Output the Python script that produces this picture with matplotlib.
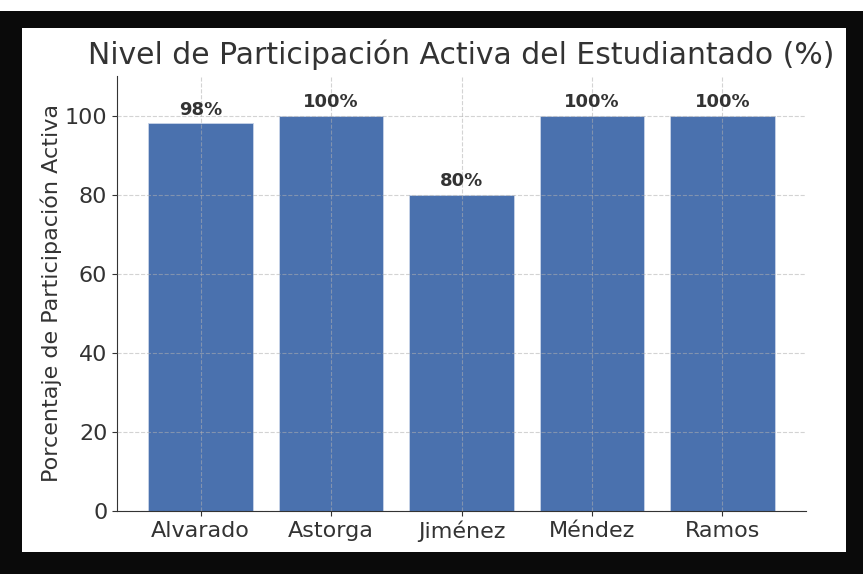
import matplotlib.pyplot as plt
from matplotlib.patches import Rectangle

# data
nombres = ['Alvarado', 'Astorga', 'Jiménez', 'Méndez', 'Ramos']
participacion = [98, 100, 80, 100, 100]
etiquetas = ['98%', '100%', '80%', '100%', '100%']

W, H = 863, 574
fig = plt.figure(figsize=(W / 100, H / 100), dpi=100, facecolor='white')

# black screenshot frame and white panel
fig.patches.append(Rectangle((0, 0), 1, 1 - 11 / H, transform=fig.transFigure,
                             facecolor='#0a0a0a', edgecolor='none', zorder=-2))
fig.patches.append(Rectangle((22 / W, (H - 552) / H), (846 - 22) / W, (552 - 28) / H,
                             transform=fig.transFigure, facecolor='white',
                             edgecolor='none', zorder=-1))

ax = fig.add_axes([117 / W, (H - 511) / H, (806 - 117) / W, (511 - 76) / H])
bars = ax.bar(nombres, participacion, width=0.8, color='#4a71ae', edgecolor='#c9d4e8', linewidth=0.6, zorder=1)

for b, t in zip(bars, etiquetas):
    ax.text(b.get_x() + b.get_width() / 2, b.get_height() + 1.2, t,
            ha='center', va='bottom', fontsize=13, fontweight='bold', color='#333333', zorder=4)

ax.set_ylim(0, 110)
ax.set_yticks([0, 20, 40, 60, 80, 100])
ax.set_axisbelow(False)
ax.grid(True, linestyle='--', color='#b0b0b0', linewidth=0.8, alpha=0.55, zorder=3)
for s in ['top', 'right']:
    ax.spines[s].set_visible(False)
for s in ['left', 'bottom']:
    ax.spines[s].set_color('#333333')
ax.tick_params(labelsize=16, colors='#333333')
ax.set_ylabel('Porcentaje de Participación Activa', fontsize=16, color='#333333', labelpad=2)
ax.set_title('Nivel de Participación Activa del Estudiantado (%)', fontsize=21.5, color='#333333', pad=9)

fig.savefig('out.png', dpi=100, facecolor=fig.get_facecolor())
